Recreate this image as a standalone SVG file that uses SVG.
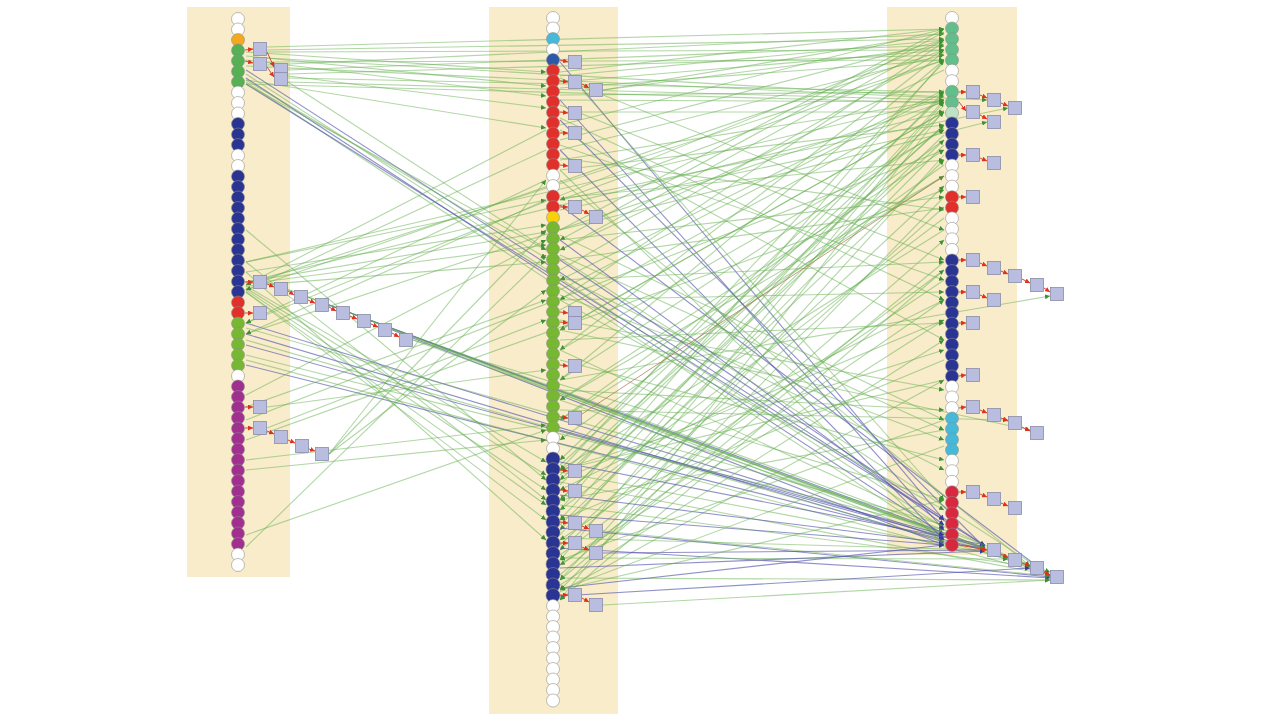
<svg xmlns="http://www.w3.org/2000/svg" width="1280" height="721" viewBox="0 0 1280 721">
<defs>
<style>
.pn{fill:#f8ecca;stroke:none}
circle{stroke:#8a8a8a;stroke-opacity:.7;stroke-width:.8}
.w{fill:#fff}.o{fill:#f4a91c}.g1{fill:#55b154}.yg{fill:#77b832}.bl{fill:#2a3593}.bl2{fill:#2c5aa8}
.r{fill:#e1302b}.rc{fill:#d7283f}.p{fill:#a12f90}.cy{fill:#47b9d8}.tg{fill:#62bf8c}.pg{fill:#bfe2c6}.y{fill:#f5d20a}
.sq{fill:#b9bde0;stroke:#8a8ca8;stroke-width:.8}
.g{stroke:#66b050;stroke-opacity:.5;stroke-width:1.1;marker-end:url(#ag)}
.b{stroke:#5656ae;stroke-opacity:.65;stroke-width:1.1;marker-end:url(#ab)}
.br{stroke:#a8704e;stroke-opacity:.7;stroke-width:1}
.rl{stroke:#d9482f;stroke-width:1;marker-end:url(#ar)}
</style>
<marker id="ag" viewBox="0 0 6 6" refX="6" refY="3" markerWidth="5" markerHeight="5" markerUnits="userSpaceOnUse" orient="auto"><path d="M0,0L6,3L0,6z" fill="#3f8f34"/></marker>
<marker id="ab" viewBox="0 0 6 6" refX="6" refY="3" markerWidth="5" markerHeight="5" markerUnits="userSpaceOnUse" orient="auto"><path d="M0,0L6,3L0,6z" fill="#3a3a9a"/></marker>
<marker id="ar" viewBox="0 0 6 6" refX="6" refY="3" markerWidth="5" markerHeight="5" markerUnits="userSpaceOnUse" orient="auto"><path d="M0,0L6,3L0,6z" fill="#e0301e"/></marker>
</defs>
<rect width="1280" height="721" style="fill:#fff;stroke:none"/>
<g id="panels">
<rect class="pn" x="187" y="7" width="103" height="570"/>
<rect class="pn" x="489" y="7" width="129" height="707"/>
<rect class="pn" x="887" y="7" width="130" height="548"/>
</g>
<g id="connectors">
<line class="g" x1="267" y1="47" x2="944" y2="29"/>
<line class="g" x1="267" y1="50" x2="944" y2="39"/>
<line class="g" x1="267" y1="52" x2="944" y2="50"/>
<line class="g" x1="267" y1="62" x2="944" y2="60"/>
<line class="g" x1="267" y1="65" x2="944" y2="34"/>
<line class="g" x1="288" y1="70" x2="944" y2="45"/>
<line class="g" x1="288" y1="74" x2="944" y2="55"/>
<line class="g" x1="288" y1="78" x2="944" y2="92"/>
<line class="g" x1="288" y1="82" x2="944" y2="100"/>
<line class="g" x1="246" y1="84" x2="944" y2="103"/>
<line class="g" x1="267" y1="58" x2="944" y2="97"/>
<line class="g" x1="246" y1="52" x2="546" y2="72"/>
<line class="g" x1="246" y1="56" x2="546" y2="86"/>
<line class="g" x1="246" y1="60" x2="546" y2="96"/>
<line class="g" x1="288" y1="76" x2="546" y2="108"/>
<line class="g" x1="246" y1="80" x2="546" y2="128"/>
<line class="b" x1="246" y1="70" x2="944" y2="520"/>
<line class="g" x1="246" y1="74" x2="944" y2="528"/>
<line class="b" x1="246" y1="78" x2="944" y2="535"/>
<line class="g" x1="246" y1="82" x2="944" y2="540"/>
<line class="b" x1="246" y1="84" x2="985" y2="546"/>
<line class="g" x1="288" y1="82" x2="1050" y2="575"/>
<line class="g" x1="246" y1="80" x2="546" y2="258"/>
<line class="g" x1="246" y1="84" x2="546" y2="250"/>
<line class="g" x1="246" y1="282" x2="546" y2="232"/>
<line class="g" x1="246" y1="284" x2="546" y2="245"/>
<line class="g" x1="246" y1="286" x2="546" y2="262"/>
<line class="g" x1="246" y1="272" x2="546" y2="225"/>
<line class="g" x1="246" y1="262" x2="944" y2="100"/>
<line class="g" x1="246" y1="282" x2="944" y2="112"/>
<line class="g" x1="246" y1="285" x2="944" y2="60"/>
<line class="g" x1="246" y1="290" x2="944" y2="50"/>
<line class="g" x1="246" y1="262" x2="546" y2="200"/>
<line class="g" x1="266" y1="282" x2="985" y2="545"/>
<line class="g" x1="287" y1="289" x2="1050" y2="576"/>
<line class="g" x1="308" y1="297" x2="1030" y2="567"/>
<line class="b" x1="329" y1="305" x2="985" y2="548"/>
<line class="g" x1="350" y1="313" x2="944" y2="540"/>
<line class="g" x1="371" y1="321" x2="1008" y2="558"/>
<line class="b" x1="392" y1="330" x2="944" y2="545"/>
<line class="g" x1="413" y1="340" x2="1050" y2="572"/>
<line class="g" x1="413" y1="340" x2="944" y2="500"/>
<line class="g" x1="246" y1="286" x2="546" y2="462"/>
<line class="g" x1="246" y1="288" x2="546" y2="475"/>
<line class="g" x1="246" y1="290" x2="546" y2="490"/>
<line class="g" x1="246" y1="292" x2="546" y2="505"/>
<line class="b" x1="246" y1="323" x2="944" y2="538"/>
<line class="b" x1="246" y1="334" x2="944" y2="542"/>
<line class="b" x1="246" y1="345" x2="985" y2="548"/>
<line class="g" x1="246" y1="355" x2="944" y2="530"/>
<line class="b" x1="246" y1="365" x2="985" y2="550"/>
<line class="g" x1="246" y1="328" x2="944" y2="525"/>
<line class="g" x1="246" y1="340" x2="1030" y2="566"/>
<line class="g" x1="246" y1="360" x2="1050" y2="575"/>
<line class="g" x1="246" y1="547" x2="546" y2="255"/>
<line class="g" x1="329" y1="454" x2="546" y2="180"/>
<line class="g" x1="329" y1="454" x2="546" y2="230"/>
<line class="g" x1="329" y1="454" x2="546" y2="290"/>
<line class="g" x1="246" y1="407" x2="546" y2="300"/>
<line class="g" x1="246" y1="395" x2="546" y2="240"/>
<line class="g" x1="246" y1="535" x2="546" y2="430"/>
<line class="g" x1="246" y1="470" x2="546" y2="440"/>
<line class="g" x1="246" y1="460" x2="546" y2="425"/>
<line class="g" x1="267" y1="407" x2="546" y2="370"/>
<line class="g" x1="267" y1="428" x2="546" y2="320"/>
<line class="g" x1="246" y1="420" x2="944" y2="150"/>
<line class="g" x1="246" y1="440" x2="944" y2="190"/>
<line class="g" x1="560" y1="72" x2="944" y2="29"/>
<line class="g" x1="560" y1="76" x2="944" y2="40"/>
<line class="g" x1="560" y1="82" x2="944" y2="50"/>
<line class="g" x1="560" y1="88" x2="944" y2="60"/>
<line class="g" x1="603" y1="90" x2="944" y2="33"/>
<line class="g" x1="603" y1="90" x2="944" y2="46"/>
<line class="g" x1="560" y1="95" x2="944" y2="92"/>
<line class="g" x1="560" y1="100" x2="944" y2="102"/>
<line class="g" x1="560" y1="112" x2="944" y2="112"/>
<line class="g" x1="560" y1="125" x2="944" y2="29"/>
<line class="g" x1="560" y1="140" x2="944" y2="40"/>
<line class="g" x1="560" y1="150" x2="944" y2="55"/>
<line class="g" x1="560" y1="160" x2="944" y2="100"/>
<line class="g" x1="560" y1="170" x2="944" y2="125"/>
<line class="b" x1="560" y1="62" x2="944" y2="520"/>
<line class="b" x1="560" y1="100" x2="944" y2="530"/>
<line class="b" x1="560" y1="120" x2="985" y2="548"/>
<line class="b" x1="560" y1="150" x2="944" y2="540"/>
<line class="b" x1="560" y1="205" x2="1050" y2="576"/>
<line class="g" x1="582" y1="90" x2="944" y2="500"/>
<line class="g" x1="560" y1="170" x2="944" y2="545"/>
<line class="g" x1="560" y1="180" x2="1030" y2="566"/>
<line class="g" x1="944" y1="32" x2="560" y2="240"/>
<line class="g" x1="944" y1="42" x2="560" y2="300"/>
<line class="g" x1="944" y1="52" x2="560" y2="350"/>
<line class="g" x1="944" y1="62" x2="560" y2="470"/>
<line class="g" x1="944" y1="95" x2="560" y2="460"/>
<line class="g" x1="944" y1="100" x2="560" y2="520"/>
<line class="g" x1="944" y1="105" x2="560" y2="560"/>
<line class="g" x1="944" y1="110" x2="560" y2="600"/>
<line class="g" x1="944" y1="125" x2="560" y2="480"/>
<line class="g" x1="944" y1="135" x2="560" y2="500"/>
<line class="g" x1="944" y1="145" x2="560" y2="530"/>
<line class="g" x1="944" y1="155" x2="560" y2="580"/>
<line class="g" x1="944" y1="165" x2="560" y2="440"/>
<line class="g" x1="944" y1="176" x2="560" y2="400"/>
<line class="g" x1="944" y1="197" x2="560" y2="590"/>
<line class="g" x1="944" y1="207" x2="560" y2="550"/>
<line class="g" x1="944" y1="218" x2="560" y2="510"/>
<line class="g" x1="944" y1="230" x2="560" y2="470"/>
<line class="g" x1="944" y1="262" x2="560" y2="580"/>
<line class="g" x1="944" y1="270" x2="560" y2="600"/>
<line class="g" x1="944" y1="280" x2="560" y2="540"/>
<line class="g" x1="944" y1="300" x2="560" y2="490"/>
<line class="g" x1="944" y1="320" x2="560" y2="565"/>
<line class="g" x1="944" y1="60" x2="560" y2="200"/>
<line class="g" x1="944" y1="70" x2="560" y2="250"/>
<line class="g" x1="944" y1="90" x2="560" y2="280"/>
<line class="g" x1="944" y1="112" x2="560" y2="330"/>
<line class="g" x1="944" y1="128" x2="560" y2="380"/>
<line class="g" x1="944" y1="140" x2="560" y2="420"/>
<line class="g" x1="560" y1="230" x2="944" y2="29"/>
<line class="g" x1="560" y1="250" x2="944" y2="40"/>
<line class="g" x1="560" y1="270" x2="944" y2="50"/>
<line class="g" x1="560" y1="290" x2="944" y2="92"/>
<line class="g" x1="560" y1="310" x2="944" y2="100"/>
<line class="g" x1="560" y1="330" x2="944" y2="112"/>
<line class="g" x1="560" y1="350" x2="944" y2="130"/>
<line class="g" x1="560" y1="380" x2="944" y2="60"/>
<line class="g" x1="560" y1="400" x2="944" y2="150"/>
<line class="g" x1="560" y1="420" x2="944" y2="176"/>
<line class="g" x1="560" y1="240" x2="944" y2="197"/>
<line class="g" x1="560" y1="260" x2="944" y2="208"/>
<line class="g" x1="560" y1="280" x2="944" y2="262"/>
<line class="g" x1="560" y1="300" x2="944" y2="292"/>
<line class="g" x1="560" y1="340" x2="944" y2="323"/>
<line class="g" x1="560" y1="465" x2="944" y2="112"/>
<line class="g" x1="560" y1="475" x2="944" y2="125"/>
<line class="g" x1="560" y1="485" x2="944" y2="92"/>
<line class="g" x1="560" y1="500" x2="944" y2="140"/>
<line class="g" x1="560" y1="510" x2="944" y2="60"/>
<line class="g" x1="560" y1="525" x2="944" y2="160"/>
<line class="g" x1="560" y1="535" x2="944" y2="102"/>
<line class="g" x1="560" y1="545" x2="944" y2="186"/>
<line class="g" x1="560" y1="555" x2="944" y2="270"/>
<line class="g" x1="560" y1="565" x2="944" y2="300"/>
<line class="g" x1="560" y1="575" x2="944" y2="240"/>
<line class="g" x1="560" y1="585" x2="944" y2="340"/>
<line class="g" x1="560" y1="592" x2="944" y2="380"/>
<line class="g" x1="560" y1="470" x2="944" y2="350"/>
<line class="g" x1="560" y1="480" x2="944" y2="320"/>
<line class="g" x1="560" y1="235" x2="944" y2="420"/>
<line class="g" x1="560" y1="255" x2="944" y2="430"/>
<line class="g" x1="560" y1="275" x2="944" y2="470"/>
<line class="g" x1="560" y1="295" x2="944" y2="440"/>
<line class="g" x1="560" y1="320" x2="944" y2="390"/>
<line class="g" x1="560" y1="360" x2="944" y2="460"/>
<line class="g" x1="560" y1="390" x2="944" y2="410"/>
<line class="g" x1="560" y1="78" x2="944" y2="230"/>
<line class="g" x1="560" y1="105" x2="944" y2="260"/>
<line class="g" x1="560" y1="118" x2="944" y2="300"/>
<line class="g" x1="560" y1="130" x2="944" y2="340"/>
<line class="g" x1="560" y1="145" x2="944" y2="280"/>
<line class="g" x1="560" y1="158" x2="944" y2="210"/>
<line class="g" x1="560" y1="198" x2="944" y2="160"/>
<line class="g" x1="560" y1="210" x2="944" y2="130"/>
<line class="b" x1="560" y1="462" x2="985" y2="545"/>
<line class="g" x1="560" y1="472" x2="1008" y2="557"/>
<line class="g" x1="560" y1="482" x2="1050" y2="575"/>
<line class="b" x1="560" y1="495" x2="985" y2="548"/>
<line class="g" x1="560" y1="505" x2="1030" y2="566"/>
<line class="b" x1="560" y1="515" x2="944" y2="545"/>
<line class="b" x1="560" y1="528" x2="1050" y2="577"/>
<line class="g" x1="560" y1="538" x2="985" y2="550"/>
<line class="b" x1="560" y1="548" x2="1050" y2="578"/>
<line class="g" x1="560" y1="558" x2="1008" y2="559"/>
<line class="b" x1="560" y1="568" x2="985" y2="551"/>
<line class="g" x1="560" y1="578" x2="1050" y2="580"/>
<line class="b" x1="560" y1="588" x2="944" y2="545"/>
<line class="b" x1="560" y1="596" x2="1030" y2="568"/>
<line class="g" x1="603" y1="531" x2="1050" y2="576"/>
<line class="b" x1="603" y1="553" x2="985" y2="550"/>
<line class="g" x1="603" y1="605" x2="1050" y2="580"/>
<line class="g" x1="560" y1="590" x2="944" y2="500"/>
<line class="b" x1="560" y1="240" x2="944" y2="525"/>
<line class="b" x1="560" y1="260" x2="985" y2="546"/>
<line class="g" x1="560" y1="300" x2="944" y2="510"/>
<line class="g" x1="560" y1="350" x2="1030" y2="566"/>
<line class="g" x1="560" y1="400" x2="985" y2="548"/>
<line class="b" x1="560" y1="430" x2="944" y2="535"/>
<line class="g" x1="944" y1="420" x2="560" y2="560"/>
<line class="g" x1="944" y1="430" x2="560" y2="500"/>
<line class="g" x1="944" y1="446" x2="560" y2="590"/>
<line class="g" x1="944" y1="380" x2="560" y2="470"/>
<line class="g" x1="944" y1="360" x2="560" y2="520"/>
<line class="g" x1="246" y1="323" x2="944" y2="40"/>
<line class="g" x1="246" y1="334" x2="944" y2="102"/>
<line class="g" x1="546" y1="130" x2="246" y2="285"/>
<line class="g" x1="546" y1="150" x2="246" y2="290"/>
<line class="g" x1="546" y1="180" x2="246" y2="323"/>
<line class="g" x1="546" y1="200" x2="246" y2="334"/>
<line class="g" x1="246" y1="292" x2="546" y2="520"/>
<line class="g" x1="246" y1="230" x2="546" y2="480"/>
<line class="g" x1="246" y1="262" x2="546" y2="500"/>
<line class="g" x1="246" y1="272" x2="546" y2="540"/>
<line class="g" x1="560" y1="330" x2="1030" y2="430"/>
<line class="g" x1="560" y1="380" x2="1050" y2="296"/>
<line class="g" x1="560" y1="410" x2="1008" y2="420"/>
<line class="g" x1="560" y1="200" x2="1008" y2="108"/>
<line class="g" x1="560" y1="230" x2="987" y2="122"/>
<line class="g" x1="246" y1="66" x2="987" y2="100"/>
<line class="br" x1="582" y1="414" x2="944" y2="176"/>
</g>
<g id="links">
<line class="rl" x1="245" y1="50" x2="253" y2="49"/>
<line class="rl" x1="245" y1="61" x2="253" y2="63"/>
<line class="rl" x1="267" y1="52" x2="274" y2="67"/>
<line class="rl" x1="267" y1="67" x2="274" y2="77"/>
<line class="rl" x1="245" y1="282" x2="253" y2="282"/>
<line class="rl" x1="267" y1="284" x2="274" y2="287"/>
<line class="rl" x1="288" y1="291" x2="294" y2="295"/>
<line class="rl" x1="308" y1="300" x2="315" y2="303"/>
<line class="rl" x1="329" y1="307" x2="336" y2="311"/>
<line class="rl" x1="350" y1="316" x2="357" y2="319"/>
<line class="rl" x1="371" y1="324" x2="378" y2="327"/>
<line class="rl" x1="392" y1="333" x2="399" y2="337"/>
<line class="rl" x1="245" y1="313" x2="253" y2="313"/>
<line class="rl" x1="245" y1="407" x2="253" y2="407"/>
<line class="rl" x1="245" y1="428" x2="253" y2="428"/>
<line class="rl" x1="267" y1="431" x2="274" y2="434"/>
<line class="rl" x1="288" y1="440" x2="295" y2="443"/>
<line class="rl" x1="309" y1="449" x2="315" y2="451"/>
<line class="rl" x1="560" y1="60" x2="568" y2="62"/>
<line class="rl" x1="560" y1="81" x2="568" y2="82"/>
<line class="rl" x1="582" y1="84" x2="589" y2="88"/>
<line class="rl" x1="560" y1="112" x2="568" y2="113"/>
<line class="rl" x1="560" y1="133" x2="568" y2="133"/>
<line class="rl" x1="560" y1="165" x2="568" y2="166"/>
<line class="rl" x1="560" y1="207" x2="568" y2="207"/>
<line class="rl" x1="582" y1="210" x2="589" y2="214"/>
<line class="rl" x1="560" y1="312" x2="568" y2="313"/>
<line class="rl" x1="560" y1="322" x2="568" y2="323"/>
<line class="rl" x1="560" y1="365" x2="568" y2="366"/>
<line class="rl" x1="560" y1="417" x2="568" y2="418"/>
<line class="rl" x1="560" y1="470" x2="568" y2="471"/>
<line class="rl" x1="560" y1="490" x2="568" y2="491"/>
<line class="rl" x1="560" y1="522" x2="568" y2="523"/>
<line class="rl" x1="582" y1="526" x2="589" y2="529"/>
<line class="rl" x1="560" y1="543" x2="568" y2="543"/>
<line class="rl" x1="582" y1="547" x2="589" y2="550"/>
<line class="rl" x1="560" y1="595" x2="568" y2="595"/>
<line class="rl" x1="582" y1="598" x2="589" y2="602"/>
<line class="rl" x1="959" y1="92" x2="966" y2="92"/>
<line class="rl" x1="980" y1="95" x2="987" y2="98"/>
<line class="rl" x1="1001" y1="103" x2="1008" y2="106"/>
<line class="rl" x1="959" y1="102" x2="966" y2="111"/>
<line class="rl" x1="980" y1="115" x2="987" y2="119"/>
<line class="rl" x1="959" y1="155" x2="966" y2="155"/>
<line class="rl" x1="980" y1="158" x2="987" y2="161"/>
<line class="rl" x1="959" y1="197" x2="966" y2="197"/>
<line class="rl" x1="959" y1="260" x2="966" y2="260"/>
<line class="rl" x1="980" y1="263" x2="987" y2="266"/>
<line class="rl" x1="1001" y1="271" x2="1008" y2="274"/>
<line class="rl" x1="1022" y1="279" x2="1030" y2="283"/>
<line class="rl" x1="1044" y1="288" x2="1050" y2="292"/>
<line class="rl" x1="959" y1="292" x2="966" y2="292"/>
<line class="rl" x1="980" y1="295" x2="987" y2="298"/>
<line class="rl" x1="959" y1="323" x2="966" y2="323"/>
<line class="rl" x1="959" y1="376" x2="966" y2="375"/>
<line class="rl" x1="959" y1="408" x2="966" y2="407"/>
<line class="rl" x1="980" y1="410" x2="987" y2="413"/>
<line class="rl" x1="1001" y1="418" x2="1008" y2="421"/>
<line class="rl" x1="1022" y1="427" x2="1030" y2="431"/>
<line class="rl" x1="959" y1="492" x2="966" y2="492"/>
<line class="rl" x1="980" y1="494" x2="987" y2="497"/>
<line class="rl" x1="1001" y1="503" x2="1008" y2="506"/>
<line class="rl" x1="959" y1="545" x2="987" y2="550"/>
<line class="rl" x1="1001" y1="554" x2="1008" y2="558"/>
<line class="rl" x1="1022" y1="563" x2="1030" y2="566"/>
<line class="rl" x1="1044" y1="572" x2="1050" y2="575"/>
</g>
<g id="col1">
<g id="L0"><circle class="w" cx="238" cy="19" r="6.5"/></g>
<g id="L1"><circle class="w" cx="238" cy="29.5" r="6.5"/></g>
<g id="L2"><circle class="o" cx="238" cy="40" r="6.5"/></g>
<g id="L3"><circle class="g1" cx="238" cy="50.5" r="6.5"/></g>
<g id="L4"><circle class="g1" cx="238" cy="61" r="6.5"/></g>
<g id="L5"><circle class="g1" cx="238" cy="71.5" r="6.5"/></g>
<g id="L6"><circle class="g1" cx="238" cy="82" r="6.5"/></g>
<g id="L7"><circle class="w" cx="238" cy="92.5" r="6.5"/></g>
<g id="L8"><circle class="w" cx="238" cy="103" r="6.5"/></g>
<g id="L9"><circle class="w" cx="238" cy="113.5" r="6.5"/></g>
<g id="L10"><circle class="bl" cx="238" cy="124" r="6.5"/></g>
<g id="L11"><circle class="bl" cx="238" cy="134.5" r="6.5"/></g>
<g id="L12"><circle class="bl" cx="238" cy="145" r="6.5"/></g>
<g id="L13"><circle class="w" cx="238" cy="155.5" r="6.5"/></g>
<g id="L14"><circle class="w" cx="238" cy="166" r="6.5"/></g>
<g id="L15"><circle class="bl" cx="238" cy="176.5" r="6.5"/></g>
<g id="L16"><circle class="bl" cx="238" cy="187" r="6.5"/></g>
<g id="L17"><circle class="bl" cx="238" cy="197.5" r="6.5"/></g>
<g id="L18"><circle class="bl" cx="238" cy="208" r="6.5"/></g>
<g id="L19"><circle class="bl" cx="238" cy="218.5" r="6.5"/></g>
<g id="L20"><circle class="bl" cx="238" cy="229" r="6.5"/></g>
<g id="L21"><circle class="bl" cx="238" cy="239.5" r="6.5"/></g>
<g id="L22"><circle class="bl" cx="238" cy="250" r="6.5"/></g>
<g id="L23"><circle class="bl" cx="238" cy="260.5" r="6.5"/></g>
<g id="L24"><circle class="bl" cx="238" cy="271" r="6.5"/></g>
<g id="L25"><circle class="bl" cx="238" cy="281.5" r="6.5"/></g>
<g id="L26"><circle class="bl" cx="238" cy="292" r="6.5"/></g>
<g id="L27"><circle class="r" cx="238" cy="302.5" r="6.5"/></g>
<g id="L28"><circle class="r" cx="238" cy="313" r="6.5"/></g>
<g id="L29"><circle class="yg" cx="238" cy="323.5" r="6.5"/></g>
<g id="L30"><circle class="yg" cx="238" cy="334" r="6.5"/></g>
<g id="L31"><circle class="yg" cx="238" cy="344.5" r="6.5"/></g>
<g id="L32"><circle class="yg" cx="238" cy="355" r="6.5"/></g>
<g id="L33"><circle class="yg" cx="238" cy="365.5" r="6.5"/></g>
<g id="L34"><circle class="w" cx="238" cy="376" r="6.5"/></g>
<g id="L35"><circle class="p" cx="238" cy="386.5" r="6.5"/></g>
<g id="L36"><circle class="p" cx="238" cy="397" r="6.5"/></g>
<g id="L37"><circle class="p" cx="238" cy="407.5" r="6.5"/></g>
<g id="L38"><circle class="p" cx="238" cy="418" r="6.5"/></g>
<g id="L39"><circle class="p" cx="238" cy="428.5" r="6.5"/></g>
<g id="L40"><circle class="p" cx="238" cy="439" r="6.5"/></g>
<g id="L41"><circle class="p" cx="238" cy="449.5" r="6.5"/></g>
<g id="L42"><circle class="p" cx="238" cy="460" r="6.5"/></g>
<g id="L43"><circle class="p" cx="238" cy="470.5" r="6.5"/></g>
<g id="L44"><circle class="p" cx="238" cy="481" r="6.5"/></g>
<g id="L45"><circle class="p" cx="238" cy="491.5" r="6.5"/></g>
<g id="L46"><circle class="p" cx="238" cy="502" r="6.5"/></g>
<g id="L47"><circle class="p" cx="238" cy="512.5" r="6.5"/></g>
<g id="L48"><circle class="p" cx="238" cy="523" r="6.5"/></g>
<g id="L49"><circle class="p" cx="238" cy="533.5" r="6.5"/></g>
<g id="L50"><circle class="p" cx="238" cy="544" r="6.5"/></g>
<g id="L51"><circle class="w" cx="238" cy="554.5" r="6.5"/></g>
<g id="L52"><circle class="w" cx="238" cy="565" r="6.5"/></g>
<g id="LS1"><rect class="sq" x="253.5" y="42.5" width="13" height="13"/></g>
<g id="LS2"><rect class="sq" x="253.5" y="57.5" width="13" height="13"/></g>
<g id="LS3"><rect class="sq" x="274.5" y="63.5" width="13" height="13"/></g>
<g id="LS4"><rect class="sq" x="274.5" y="72.5" width="13" height="13"/></g>
<g id="LS5"><rect class="sq" x="253.5" y="275.5" width="13" height="13"/></g>
<g id="LS6"><rect class="sq" x="274.5" y="282.5" width="13" height="13"/></g>
<g id="LS7"><rect class="sq" x="294.5" y="290.5" width="13" height="13"/></g>
<g id="LS8"><rect class="sq" x="315.5" y="298.5" width="13" height="13"/></g>
<g id="LS9"><rect class="sq" x="336.5" y="306.5" width="13" height="13"/></g>
<g id="LS10"><rect class="sq" x="357.5" y="314.5" width="13" height="13"/></g>
<g id="LS11"><rect class="sq" x="378.5" y="323.5" width="13" height="13"/></g>
<g id="LS12"><rect class="sq" x="399.5" y="333.5" width="13" height="13"/></g>
<g id="LS13"><rect class="sq" x="253.5" y="306.5" width="13" height="13"/></g>
<g id="LS14"><rect class="sq" x="253.5" y="400.5" width="13" height="13"/></g>
<g id="LS15"><rect class="sq" x="253.5" y="421.5" width="13" height="13"/></g>
<g id="LS16"><rect class="sq" x="274.5" y="430.5" width="13" height="13"/></g>
<g id="LS17"><rect class="sq" x="295.5" y="439.5" width="13" height="13"/></g>
<g id="LS18"><rect class="sq" x="315.5" y="447.5" width="13" height="13"/></g>
</g>
<g id="col2">
<g id="M0"><circle class="w" cx="553" cy="18" r="6.5"/></g>
<g id="M1"><circle class="w" cx="553" cy="28.5" r="6.5"/></g>
<g id="M2"><circle class="cy" cx="553" cy="39" r="6.5"/></g>
<g id="M3"><circle class="w" cx="553" cy="49.5" r="6.5"/></g>
<g id="M4"><circle class="bl2" cx="553" cy="60" r="6.5"/></g>
<g id="M5"><circle class="r" cx="553" cy="70.5" r="6.5"/></g>
<g id="M6"><circle class="r" cx="553" cy="81" r="6.5"/></g>
<g id="M7"><circle class="r" cx="553" cy="91.5" r="6.5"/></g>
<g id="M8"><circle class="r" cx="553" cy="102" r="6.5"/></g>
<g id="M9"><circle class="r" cx="553" cy="112.5" r="6.5"/></g>
<g id="M10"><circle class="r" cx="553" cy="123" r="6.5"/></g>
<g id="M11"><circle class="r" cx="553" cy="133.5" r="6.5"/></g>
<g id="M12"><circle class="r" cx="553" cy="144" r="6.5"/></g>
<g id="M13"><circle class="r" cx="553" cy="154.5" r="6.5"/></g>
<g id="M14"><circle class="r" cx="553" cy="165" r="6.5"/></g>
<g id="M15"><circle class="w" cx="553" cy="175.5" r="6.5"/></g>
<g id="M16"><circle class="w" cx="553" cy="186" r="6.5"/></g>
<g id="M17"><circle class="r" cx="553" cy="196.5" r="6.5"/></g>
<g id="M18"><circle class="r" cx="553" cy="207" r="6.5"/></g>
<g id="M19"><circle class="y" cx="553" cy="217.5" r="6.5"/></g>
<g id="M20"><circle class="yg" cx="553" cy="228" r="6.5"/></g>
<g id="M21"><circle class="yg" cx="553" cy="238.5" r="6.5"/></g>
<g id="M22"><circle class="yg" cx="553" cy="249" r="6.5"/></g>
<g id="M23"><circle class="yg" cx="553" cy="259.5" r="6.5"/></g>
<g id="M24"><circle class="yg" cx="553" cy="270" r="6.5"/></g>
<g id="M25"><circle class="yg" cx="553" cy="280.5" r="6.5"/></g>
<g id="M26"><circle class="yg" cx="553" cy="291" r="6.5"/></g>
<g id="M27"><circle class="yg" cx="553" cy="301.5" r="6.5"/></g>
<g id="M28"><circle class="yg" cx="553" cy="312" r="6.5"/></g>
<g id="M29"><circle class="yg" cx="553" cy="322.5" r="6.5"/></g>
<g id="M30"><circle class="yg" cx="553" cy="333" r="6.5"/></g>
<g id="M31"><circle class="yg" cx="553" cy="343.5" r="6.5"/></g>
<g id="M32"><circle class="yg" cx="553" cy="354" r="6.5"/></g>
<g id="M33"><circle class="yg" cx="553" cy="364.5" r="6.5"/></g>
<g id="M34"><circle class="yg" cx="553" cy="375" r="6.5"/></g>
<g id="M35"><circle class="yg" cx="553" cy="385.5" r="6.5"/></g>
<g id="M36"><circle class="yg" cx="553" cy="396" r="6.5"/></g>
<g id="M37"><circle class="yg" cx="553" cy="406.5" r="6.5"/></g>
<g id="M38"><circle class="yg" cx="553" cy="417" r="6.5"/></g>
<g id="M39"><circle class="yg" cx="553" cy="427.5" r="6.5"/></g>
<g id="M40"><circle class="w" cx="553" cy="438" r="6.5"/></g>
<g id="M41"><circle class="w" cx="553" cy="448.5" r="6.5"/></g>
<g id="M42"><circle class="bl" cx="553" cy="459" r="7"/></g>
<g id="M43"><circle class="bl" cx="553" cy="469.5" r="7"/></g>
<g id="M44"><circle class="bl" cx="553" cy="480" r="7"/></g>
<g id="M45"><circle class="bl" cx="553" cy="490.5" r="7"/></g>
<g id="M46"><circle class="bl" cx="553" cy="501" r="7"/></g>
<g id="M47"><circle class="bl" cx="553" cy="511.5" r="7"/></g>
<g id="M48"><circle class="bl" cx="553" cy="522" r="7"/></g>
<g id="M49"><circle class="bl" cx="553" cy="532.5" r="7"/></g>
<g id="M50"><circle class="bl" cx="553" cy="543" r="7"/></g>
<g id="M51"><circle class="bl" cx="553" cy="553.5" r="7"/></g>
<g id="M52"><circle class="bl" cx="553" cy="564" r="7"/></g>
<g id="M53"><circle class="bl" cx="553" cy="574.5" r="7"/></g>
<g id="M54"><circle class="bl" cx="553" cy="585" r="7"/></g>
<g id="M55"><circle class="bl" cx="553" cy="595.5" r="7"/></g>
<g id="M56"><circle class="w" cx="553" cy="606" r="6.5"/></g>
<g id="M57"><circle class="w" cx="553" cy="616.5" r="6.5"/></g>
<g id="M58"><circle class="w" cx="553" cy="627" r="6.5"/></g>
<g id="M59"><circle class="w" cx="553" cy="637.5" r="6.5"/></g>
<g id="M60"><circle class="w" cx="553" cy="648" r="6.5"/></g>
<g id="M61"><circle class="w" cx="553" cy="658.5" r="6.5"/></g>
<g id="M62"><circle class="w" cx="553" cy="669" r="6.5"/></g>
<g id="M63"><circle class="w" cx="553" cy="679.5" r="6.5"/></g>
<g id="M64"><circle class="w" cx="553" cy="690" r="6.5"/></g>
<g id="M65"><circle class="w" cx="553" cy="700.5" r="6.5"/></g>
<g id="MS1"><rect class="sq" x="568.5" y="55.5" width="13" height="13"/></g>
<g id="MS2"><rect class="sq" x="568.5" y="75.5" width="13" height="13"/></g>
<g id="MS3"><rect class="sq" x="589.5" y="83.5" width="13" height="13"/></g>
<g id="MS4"><rect class="sq" x="568.5" y="106.5" width="13" height="13"/></g>
<g id="MS5"><rect class="sq" x="568.5" y="126.5" width="13" height="13"/></g>
<g id="MS6"><rect class="sq" x="568.5" y="159.5" width="13" height="13"/></g>
<g id="MS7"><rect class="sq" x="568.5" y="200.5" width="13" height="13"/></g>
<g id="MS8"><rect class="sq" x="589.5" y="210.5" width="13" height="13"/></g>
<g id="MS9"><rect class="sq" x="568.5" y="306.5" width="13" height="13"/></g>
<g id="MS10"><rect class="sq" x="568.5" y="316.5" width="13" height="13"/></g>
<g id="MS11"><rect class="sq" x="568.5" y="359.5" width="13" height="13"/></g>
<g id="MS12"><rect class="sq" x="568.5" y="411.5" width="13" height="13"/></g>
<g id="MS13"><rect class="sq" x="568.5" y="464.5" width="13" height="13"/></g>
<g id="MS14"><rect class="sq" x="568.5" y="484.5" width="13" height="13"/></g>
<g id="MS15"><rect class="sq" x="568.5" y="516.5" width="13" height="13"/></g>
<g id="MS16"><rect class="sq" x="589.5" y="524.5" width="13" height="13"/></g>
<g id="MS17"><rect class="sq" x="568.5" y="536.5" width="13" height="13"/></g>
<g id="MS18"><rect class="sq" x="589.5" y="546.5" width="13" height="13"/></g>
<g id="MS19"><rect class="sq" x="568.5" y="588.5" width="13" height="13"/></g>
<g id="MS20"><rect class="sq" x="589.5" y="598.5" width="13" height="13"/></g>
</g>
<g id="col3">
<g id="R0"><circle class="w" cx="952" cy="18" r="6.5"/></g>
<g id="R1"><circle class="tg" cx="952" cy="28.5" r="6.5"/></g>
<g id="R2"><circle class="tg" cx="952" cy="39.1" r="6.5"/></g>
<g id="R3"><circle class="tg" cx="952" cy="49.6" r="6.5"/></g>
<g id="R4"><circle class="tg" cx="952" cy="60.2" r="6.5"/></g>
<g id="R5"><circle class="w" cx="952" cy="70.7" r="6.5"/></g>
<g id="R6"><circle class="w" cx="952" cy="81.2" r="6.5"/></g>
<g id="R7"><circle class="tg" cx="952" cy="91.8" r="6.5"/></g>
<g id="R8"><circle class="tg" cx="952" cy="102.3" r="6.5"/></g>
<g id="R9"><circle class="pg" cx="952" cy="112.9" r="6.5"/></g>
<g id="R10"><circle class="bl" cx="952" cy="123.4" r="6.5"/></g>
<g id="R11"><circle class="bl" cx="952" cy="133.9" r="6.5"/></g>
<g id="R12"><circle class="bl" cx="952" cy="144.5" r="6.5"/></g>
<g id="R13"><circle class="bl" cx="952" cy="155" r="6.5"/></g>
<g id="R14"><circle class="w" cx="952" cy="165.6" r="6.5"/></g>
<g id="R15"><circle class="w" cx="952" cy="176.1" r="6.5"/></g>
<g id="R16"><circle class="w" cx="952" cy="186.6" r="6.5"/></g>
<g id="R17"><circle class="r" cx="952" cy="197.2" r="6.5"/></g>
<g id="R18"><circle class="r" cx="952" cy="207.7" r="6.5"/></g>
<g id="R19"><circle class="w" cx="952" cy="218.3" r="6.5"/></g>
<g id="R20"><circle class="w" cx="952" cy="228.8" r="6.5"/></g>
<g id="R21"><circle class="w" cx="952" cy="239.3" r="6.5"/></g>
<g id="R22"><circle class="w" cx="952" cy="249.9" r="6.5"/></g>
<g id="R23"><circle class="bl" cx="952" cy="260.4" r="6.5"/></g>
<g id="R24"><circle class="bl" cx="952" cy="271" r="6.5"/></g>
<g id="R25"><circle class="bl" cx="952" cy="281.5" r="6.5"/></g>
<g id="R26"><circle class="bl" cx="952" cy="292" r="6.5"/></g>
<g id="R27"><circle class="bl" cx="952" cy="302.6" r="6.5"/></g>
<g id="R28"><circle class="bl" cx="952" cy="313.1" r="6.5"/></g>
<g id="R29"><circle class="bl" cx="952" cy="323.7" r="6.5"/></g>
<g id="R30"><circle class="bl" cx="952" cy="334.2" r="6.5"/></g>
<g id="R31"><circle class="bl" cx="952" cy="344.7" r="6.5"/></g>
<g id="R32"><circle class="bl" cx="952" cy="355.3" r="6.5"/></g>
<g id="R33"><circle class="bl" cx="952" cy="365.8" r="6.5"/></g>
<g id="R34"><circle class="bl" cx="952" cy="376.4" r="6.5"/></g>
<g id="R35"><circle class="w" cx="952" cy="386.9" r="6.5"/></g>
<g id="R36"><circle class="w" cx="952" cy="397.4" r="6.5"/></g>
<g id="R37"><circle class="w" cx="952" cy="408" r="6.5"/></g>
<g id="R38"><circle class="cy" cx="952" cy="418.5" r="6.5"/></g>
<g id="R39"><circle class="cy" cx="952" cy="429.1" r="6.5"/></g>
<g id="R40"><circle class="cy" cx="952" cy="439.6" r="6.5"/></g>
<g id="R41"><circle class="cy" cx="952" cy="450.1" r="6.5"/></g>
<g id="R42"><circle class="w" cx="952" cy="460.7" r="6.5"/></g>
<g id="R43"><circle class="w" cx="952" cy="471.2" r="6.5"/></g>
<g id="R44"><circle class="w" cx="952" cy="481.8" r="6.5"/></g>
<g id="R45"><circle class="rc" cx="952" cy="492.3" r="6.5"/></g>
<g id="R46"><circle class="rc" cx="952" cy="502.8" r="6.5"/></g>
<g id="R47"><circle class="rc" cx="952" cy="513.4" r="6.5"/></g>
<g id="R48"><circle class="rc" cx="952" cy="523.9" r="6.5"/></g>
<g id="R49"><circle class="rc" cx="952" cy="534.5" r="6.5"/></g>
<g id="R50"><circle class="rc" cx="952" cy="545" r="6.5"/></g>
<g id="RS1"><rect class="sq" x="966.5" y="85.5" width="13" height="13"/></g>
<g id="RS2"><rect class="sq" x="966.5" y="105.5" width="13" height="13"/></g>
<g id="RS3"><rect class="sq" x="987.5" y="93.5" width="13" height="13"/></g>
<g id="RS4"><rect class="sq" x="987.5" y="115.5" width="13" height="13"/></g>
<g id="RS5"><rect class="sq" x="1008.5" y="101.5" width="13" height="13"/></g>
<g id="RS6"><rect class="sq" x="966.5" y="148.5" width="13" height="13"/></g>
<g id="RS7"><rect class="sq" x="987.5" y="156.5" width="13" height="13"/></g>
<g id="RS8"><rect class="sq" x="966.5" y="190.5" width="13" height="13"/></g>
<g id="RS9"><rect class="sq" x="966.5" y="253.5" width="13" height="13"/></g>
<g id="RS10"><rect class="sq" x="987.5" y="261.5" width="13" height="13"/></g>
<g id="RS11"><rect class="sq" x="1008.5" y="269.5" width="13" height="13"/></g>
<g id="RS12"><rect class="sq" x="1030.5" y="278.5" width="13" height="13"/></g>
<g id="RS13"><rect class="sq" x="1050.5" y="287.5" width="13" height="13"/></g>
<g id="RS14"><rect class="sq" x="966.5" y="285.5" width="13" height="13"/></g>
<g id="RS15"><rect class="sq" x="987.5" y="293.5" width="13" height="13"/></g>
<g id="RS16"><rect class="sq" x="966.5" y="316.5" width="13" height="13"/></g>
<g id="RS17"><rect class="sq" x="966.5" y="368.5" width="13" height="13"/></g>
<g id="RS18"><rect class="sq" x="966.5" y="400.5" width="13" height="13"/></g>
<g id="RS19"><rect class="sq" x="987.5" y="408.5" width="13" height="13"/></g>
<g id="RS20"><rect class="sq" x="1008.5" y="416.5" width="13" height="13"/></g>
<g id="RS21"><rect class="sq" x="1030.5" y="426.5" width="13" height="13"/></g>
<g id="RS22"><rect class="sq" x="966.5" y="485.5" width="13" height="13"/></g>
<g id="RS23"><rect class="sq" x="987.5" y="492.5" width="13" height="13"/></g>
<g id="RS24"><rect class="sq" x="1008.5" y="501.5" width="13" height="13"/></g>
<g id="RS25"><rect class="sq" x="987.5" y="543.5" width="13" height="13"/></g>
<g id="RS26"><rect class="sq" x="1008.5" y="553.5" width="13" height="13"/></g>
<g id="RS27"><rect class="sq" x="1030.5" y="561.5" width="13" height="13"/></g>
<g id="RS28"><rect class="sq" x="1050.5" y="570.5" width="13" height="13"/></g>
</g>
</svg>
